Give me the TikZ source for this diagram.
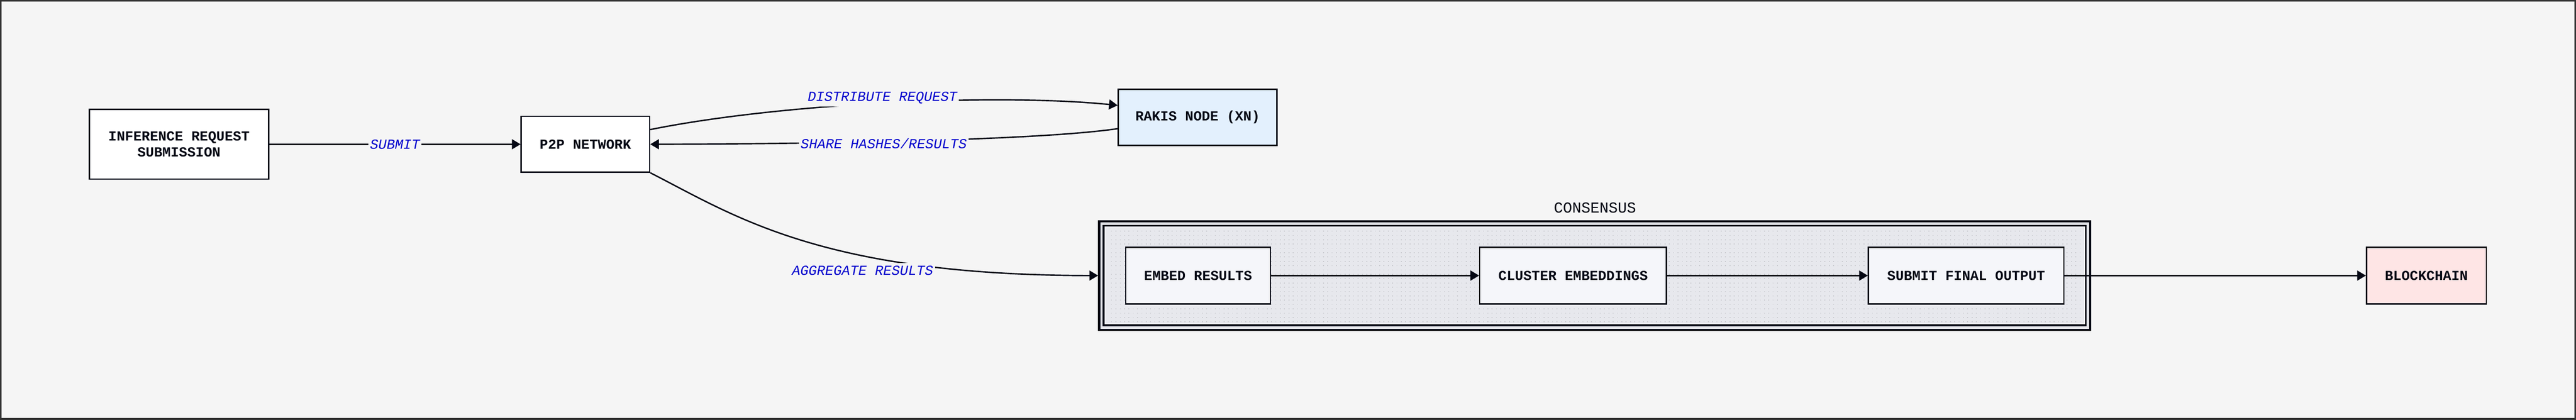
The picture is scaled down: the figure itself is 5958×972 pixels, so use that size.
\documentclass[tikz,border=0pt]{standalone}
\usepackage{fontspec}
\setmonofont{Liberation Mono}
\usetikzlibrary{arrows.meta}
\definecolor{ink}{HTML}{050814}
\definecolor{bg}{HTML}{F5F5F5}
\definecolor{framec}{HTML}{333333}
\definecolor{labblue}{HTML}{0000CD}
\definecolor{rakisfill}{HTML}{E3F0FD}
\definecolor{chainfill}{HTML}{FEE5E5}
\definecolor{stepfill}{HTML}{F5F6FA}
\definecolor{consfill}{HTML}{E7E8ED}
\definecolor{dotc}{HTML}{C9CACF}
\begin{document}
\begin{tikzpicture}[x=0.25pt,y=-0.25pt,
  box/.style={draw=ink, line width=0.75pt, inner sep=0pt, align=center,
    font=\ttfamily\bfseries\fontsize{8pt}{9.25pt}\selectfont, text=ink},
  conn/.style={draw=ink, line width=0.8pt, -{Triangle[length=5pt,width=5.75pt]}},
  lab/.style={font=\ttfamily\itshape\fontsize{8pt}{9pt}\selectfont, text=labblue, fill=bg, inner xsep=1pt, inner ysep=1.5pt}]
\useasboundingbox (0,0) rectangle (5958,972);
\fill[bg] (0,0) rectangle (5958,972);
\draw[framec, line width=1pt] (2,2) rectangle (5956,970);

% consensus group
\node[draw=ink, line width=1.25pt, fill=consfill, minimum width=572.9pt, minimum height=62.75pt, inner sep=0pt] (cons) at (3688,638) {};
\node[draw=ink, line width=1pt, fill=consfill, minimum width=567.9pt, minimum height=57.6pt, inner sep=0pt] (consin) at (3688,638) {};
\foreach \yy in {535,545,...,745}
  \draw[dotc, line width=0.5pt, dash pattern=on 0.5pt off 2pt] (2570,\yy) -- (4820,\yy);
\node[font=\ttfamily\fontsize{8.8pt}{10pt}\selectfont, text=ink] (lcons) at (3689,481) {CONSENSUS};

% nodes
\node[box, fill=white, minimum width=103.75pt, minimum height=40.25pt] (inf) at (414,334) {INFERENCE REQUEST\\SUBMISSION};
\node[box, fill=white, minimum width=74.25pt, minimum height=32.25pt] (p2p) at (1354,334) {P2P NETWORK};
\node[box, fill=rakisfill, minimum width=91.75pt, minimum height=32.5pt] (rakis) at (2770,271.5) {RAKIS NODE (XN)};
\node[box, fill=stepfill, minimum width=83.75pt, minimum height=32.75pt] (embed) at (2771,638) {EMBED RESULTS};
\node[box, fill=stepfill, minimum width=108pt, minimum height=32.75pt] (cluster) at (3638.5,638) {CLUSTER EMBEDDINGS};
\node[box, fill=stepfill, minimum width=113pt, minimum height=32.75pt] (final) at (4547.5,638) {SUBMIT FINAL OUTPUT};
\node[box, fill=chainfill, minimum width=69.25pt, minimum height=32.75pt] (chain) at (5612,638) {BLOCKCHAIN};

% connectors
\draw[conn] (inf.east) -- node[lab] (lsub) {SUBMIT} (p2p.west);
\draw[conn] ([yshift=8.5pt]p2p.east) .. controls (1800,240) and (2300,215) .. ([yshift=6.9pt]rakis.west);
\draw[conn] ([yshift=-6.6pt]rakis.west) .. controls (2400,325) and (1900,333) .. (p2p.east);
\draw[conn] (p2p.south east) .. controls (1700,500) and (1900,637) .. (cons.west);
\draw[conn] (embed.east) -- (cluster.west);
\draw[conn] (cluster.east) -- (final.west);
\draw[conn] (final.east) -- (chain.west);

% edge labels
\node[lab] (ldist) at (2041,227) {DISTRIBUTE REQUEST};
\node[lab] (lshare) at (2044,332) {SHARE HASHES/RESULTS};
\node[lab] (lagg) at (1995,626) {AGGREGATE RESULTS};
\end{tikzpicture}
\end{document}
